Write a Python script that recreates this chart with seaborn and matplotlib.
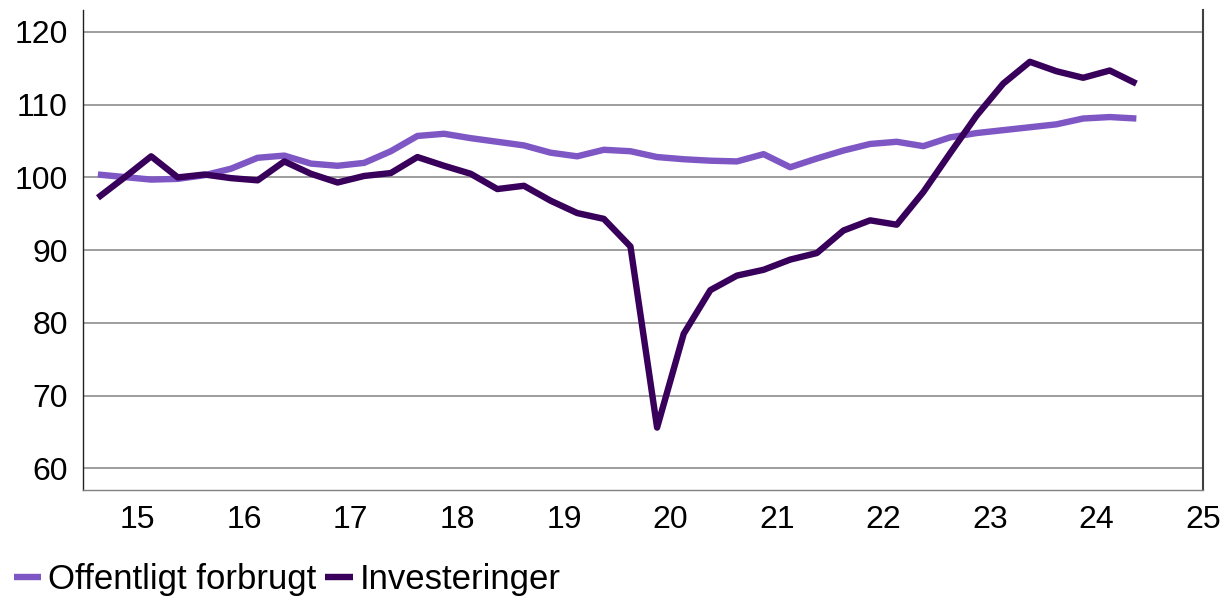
import numpy as np
import pandas as pd
import seaborn as sns
import matplotlib.pyplot as plt

# Kvartalsvise indeks, 2015K1 - 2024K4
offentligt = [100.4, 100.05, 99.7, 99.8, 100.3, 101.2, 102.7, 103.0, 101.9, 101.6,
              102.0, 103.6, 105.7, 106.0, 105.4, 104.9, 104.4, 103.4, 102.9, 103.8,
              103.6, 102.8, 102.5, 102.3, 102.2, 103.2, 101.4, 102.6, 103.7, 104.6,
              104.9, 104.3, 105.5, 106.1, 106.5, 106.9, 107.3, 108.1, 108.3, 108.1]
investeringer = [97.2, 100.0, 102.9, 100.0, 100.4, 99.9, 99.6, 102.2, 100.5, 99.3,
                 100.2, 100.6, 102.8, 101.6, 100.5, 98.4, 98.85, 96.8, 95.1, 94.3,
                 90.5, 65.6, 78.5, 84.5, 86.5, 87.3, 88.7, 89.6, 92.7, 94.1,
                 93.5, 98.0, 103.3, 108.5, 112.9, 115.9, 114.6, 113.7, 114.7, 112.9]
year_labels = ["15", "16", "17", "18", "19", "20", "21", "22", "23", "24", "25"]
y_ticks = [60, 70, 80, 90, 100, 110, 120]

colors = {"Offentligt forbrugt": "#7e57c5", "Investeringer": "#38005a"}

sns.set_style("white")
plt.rcParams['font.family'] = ['Liberation Sans', 'DejaVu Sans']
plt.rcParams['text.color'] = 'black'
plt.rcParams['xtick.labelcolor'] = 'black'
plt.rcParams['ytick.labelcolor'] = 'black'

n = len(offentligt)
df = pd.DataFrame({
    "kvartal": np.tile(np.arange(n) + 0.5, 2),
    "indeks": offentligt + investeringer,
    "serie": ["Offentligt forbrugt"] * n + ["Investeringer"] * n,
})

fig = plt.figure(figsize=(12.24, 5.97), dpi=100)
ax = fig.add_axes([0.0678, 0.179, 0.915, 0.804])

sns.lineplot(data=df, x="kvartal", y="indeks", hue="serie", palette=colors,
             linewidth=4.6, ax=ax, solid_capstyle="butt", solid_joinstyle="round")

# x-axis: ticks at year boundaries, labels centred in each year
ax.set_xlim(-0.06, 42)
ax.set_xticks(np.arange(0, 41, 4))
ax.set_xticklabels([])
ax.set_xticks(np.arange(2, 43, 4), minor=True)
ax.set_xticklabels(year_labels, minor=True)
ax.tick_params(axis="x", which="major", length=4.5, width=1, color="#404040", direction="out")
ax.tick_params(axis="x", which="minor", length=0, pad=11, labelsize=23)

ax.set_ylim(57, 123)
ax.set_yticks(y_ticks)
ax.tick_params(axis="y", length=5, width=1, color="#404040", direction="out",
               labelsize=23, pad=6)
ax.grid(axis="y", color="#8c8c8c", linewidth=1.2)
ax.set_axisbelow(True)

ax.set_xlabel("")
ax.set_ylabel("")

ax.spines["top"].set_visible(False)
ax.spines["left"].set_color("#202020")
ax.spines["left"].set_linewidth(1)
ax.spines["right"].set_color("#404040")
ax.spines["right"].set_linewidth(1.5)
ax.spines["bottom"].set_color("#808080")
ax.spines["bottom"].set_linewidth(1)

handles, labels = ax.get_legend_handles_labels()
ax.get_legend().remove()
leg = fig.legend(handles, labels, loc="lower left", bbox_to_anchor=(-0.003, -0.028),
                 ncol=2, frameon=False, fontsize=25, handlelength=0.8,
                 handletextpad=0.2, columnspacing=0.25, borderpad=0)
for line in leg.get_lines():
    line.set_solid_capstyle("butt")

fig.savefig("out.png", dpi=100)
